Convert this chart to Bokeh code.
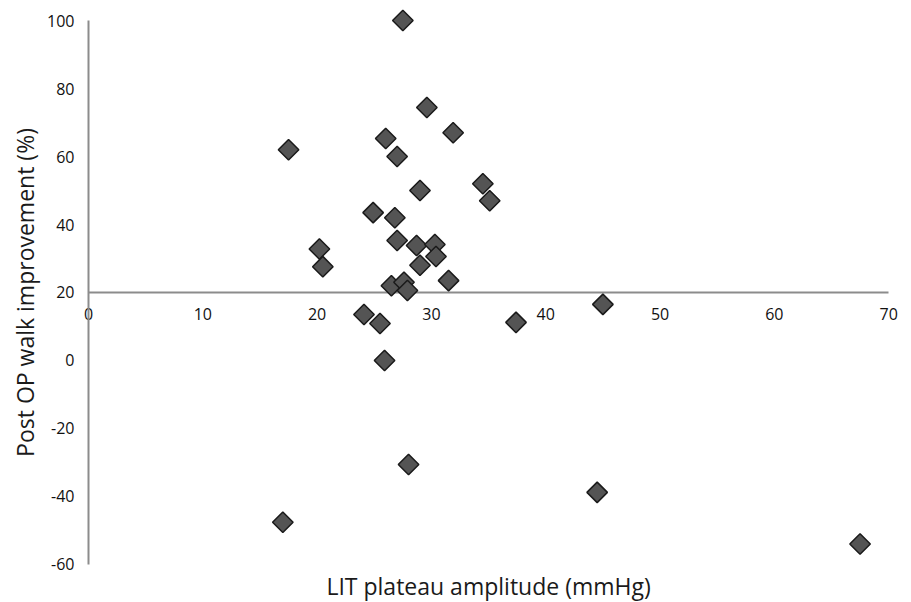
import math
from bokeh.plotting import figure
from bokeh.models import Range1d, LinearAxis, FixedTicker, Label, PrintfTickFormatter
from bokeh.embed import file_html
from bokeh.resources import INLINE

# ---- data ----
lit_amplitude = [27.5, 17.5, 29.6, 31.9, 26.0, 27.0, 29.0, 34.5, 35.1, 24.9,
                 26.8, 20.2, 20.5, 27.0, 28.7, 30.3, 30.4, 29.0, 31.5, 26.5,
                 27.6, 27.9, 24.1, 25.5, 25.9, 28.0, 17.0, 37.4, 45.0, 44.5, 67.5]
walk_improvement = [100, 62, 74.4, 67, 65.3, 60, 50, 52, 47, 43.5,
                    42, 32.8, 27.6, 35.3, 33.8, 34.1, 30.6, 28, 23.5, 22,
                    23, 20.6, 13.5, 10.9, 0, -30.6, -47.6, 11.2, 16.5, -38.8, -54]

x_ticks = [0, 10, 20, 30, 40, 50, 60, 70]
y_ticks = [-60, -40, -20, 0, 20, 40, 60, 80, 100]
x_title = "LIT plateau amplitude (mmHg)"
y_title = "Post OP walk improvement (%)"
x_axis_crosses_at = 20   # horizontal axis drawn at y = 20
y_axis_crosses_at = 0    # vertical axis drawn at x = 0

FONT = "Open Sans"

p = figure(width=911, height=602, output_backend="svg", toolbar_location=None,
           x_range=Range1d(-7.7, 72.0), y_range=Range1d(-71.2, 105.9),
           x_axis_location=None, y_axis_location=None,
           min_border=0, outline_line_color=None,
           background_fill_color="white", border_fill_color="white")
p.grid.visible = False


def style_axis(ax):
    ax.axis_line_color = "#8c8c8c"
    ax.axis_line_width = 2
    ax.major_tick_in = 0
    ax.major_tick_out = 0
    ax.minor_tick_in = 0
    ax.minor_tick_out = 0
    ax.major_label_text_font = FONT
    ax.major_label_text_font_size = "16px"
    ax.major_label_text_color = "#111111"
    ax.formatter = PrintfTickFormatter(format="%d")
    ax.level = "underlay"


xaxis = LinearAxis(fixed_location=x_axis_crosses_at,
                   bounds=(x_ticks[0], x_ticks[-1]),
                   ticker=FixedTicker(ticks=x_ticks))
style_axis(xaxis)
xaxis.major_label_standoff = 16
p.add_layout(xaxis, "below")

yaxis = LinearAxis(fixed_location=y_axis_crosses_at,
                   bounds=(y_ticks[0], y_ticks[-1]),
                   ticker=FixedTicker(ticks=y_ticks))
style_axis(yaxis)
yaxis.major_label_standoff = 14
p.add_layout(yaxis, "left")

p.scatter(lit_amplitude, walk_improvement, marker="square", angle=math.pi / 4,
          size=14.5, fill_color="#545454", line_color="#1a1a1a", line_width=1.5)

p.add_layout(Label(x=(x_ticks[0] + x_ticks[-1]) / 2, y=-66.2, text=x_title,
                   text_font=FONT, text_font_size="23px", text_color="#1a1a1a",
                   text_align="center", text_baseline="middle"))
p.add_layout(Label(x=-5.6, y=x_axis_crosses_at, text=y_title, angle=math.pi / 2,
                   text_font=FONT, text_font_size="23px", text_color="#1a1a1a",
                   text_align="center", text_baseline="middle"))

open("out.html", "w").write(file_html(p, INLINE))
